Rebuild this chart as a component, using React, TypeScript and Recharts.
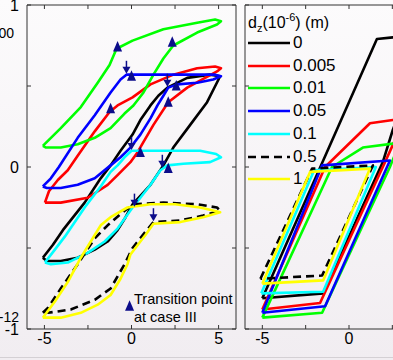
import React from 'react';
import { ComposedChart, Line, Scatter, XAxis, YAxis } from 'recharts';

type Pt = [number, number];

// left panel: loops, x from -6..6, y normalised -1..1, traced in drawing order
const leftD0: Pt[] = [
  [-5.09, -0.56], [-4.51, -0.48], [-3.94, -0.39], [-2.69, -0.22], [-1.77, -0.07], [-1.2, 0.01],
  [-0.63, 0.1], [0.06, 0.2], [0.51, 0.29], [1.09, 0.38], [1.54, 0.44], [2.06, 0.49], [3.2, 0.55],
  [4.51, 0.57], [5.09, 0.56], [4.34, 0.4], [3.37, 0.26], [2.4, 0.12], [1.83, 0.01], [1.09, -0.11],
  [0.06, -0.23], [-0.34, -0.31], [-0.8, -0.39], [-1.37, -0.46], [-2.11, -0.51], [-3.09, -0.56],
  [-4.06, -0.58], [-4.86, -0.58], [-5.09, -0.56],
];
const leftD0005: Pt[] = [
  [-4.97, -0.22], [-4.74, -0.15], [-4.23, -0.08], [-3.66, -0.02], [-3.09, 0.07], [-2.11, 0.22],
  [-1.26, 0.34], [-0.8, 0.38], [0.06, 0.43], [1.09, 0.51], [2.4, 0.57], [3.77, 0.61], [4.8, 0.62],
  [5.14, 0.61], [4.91, 0.59], [3.2, 0.49], [2.11, 0.4], [1.26, 0.26], [0.34, 0.09], [-0.06, 0.03],
  [-0.8, -0.05], [-1.37, -0.11], [-2.51, -0.19], [-4.06, -0.22], [-4.8, -0.22], [-4.97, -0.22],
];
const leftD001: Pt[] = [
  [-5.09, 0.13], [-4.06, 0.24], [-2.91, 0.37], [-1.94, 0.52], [-1.26, 0.63], [-0.86, 0.73],
  [0.06, 0.78], [1.83, 0.85], [3.77, 0.89], [4.8, 0.91], [5.14, 0.9], [4.91, 0.88], [3.77, 0.83],
  [2.4, 0.75], [1.83, 0.67], [1.26, 0.57], [0.69, 0.46], [0.11, 0.38], [-0.4, 0.33], [-1.2, 0.24],
  [-2.11, 0.18], [-3.09, 0.14], [-4.06, 0.12], [-4.91, 0.12], [-5.09, 0.13],
];
const leftD005: Pt[] = [
  [-5.09, -0.12], [-4.63, -0.07], [-4.17, 0], [-3.09, 0.18], [-2.11, 0.32], [-1.2, 0.46],
  [-0.63, 0.54], [-0.29, 0.57], [0.51, 0.57], [1.83, 0.57], [3.77, 0.57], [4.8, 0.57], [5.14, 0.56],
  [4.69, 0.54], [3.77, 0.52], [2.63, 0.51], [2.11, 0.49], [1.83, 0.44], [1.49, 0.38], [1.09, 0.3],
  [0.51, 0.2], [-0.06, 0.12], [-0.63, 0.06], [-1.2, 0.01], [-2.11, -0.07], [-3.09, -0.11],
  [-4.06, -0.13], [-4.86, -0.13], [-5.09, -0.12],
];
const leftD01: Pt[] = [
  [-4.97, -0.59], [-4.4, -0.51], [-3.83, -0.43], [-2.69, -0.25], [-1.77, -0.12], [-1.2, -0.03],
  [-0.8, 0.01], [-0.4, 0.06], [0, 0.1], [0.51, 0.1], [2.06, 0.1], [3.94, 0.1], [4.86, 0.08],
  [5.14, 0.06], [4.51, 0.03], [2.97, 0.02], [2.06, 0.01], [1.66, -0.02], [1.09, -0.11], [0.51, -0.19],
  [0.06, -0.25], [-0.8, -0.38], [-1.54, -0.46], [-2.51, -0.53], [-3.66, -0.59], [-4.63, -0.6],
  [-4.97, -0.59],
];
const leftD05: Pt[] = [
  [-5.09, -0.9], [-4.8, -0.87], [-4.06, -0.75], [-3.09, -0.6], [-2.11, -0.44], [-1.37, -0.36],
  [-0.63, -0.29], [0.11, -0.23], [1.83, -0.22], [3.77, -0.23], [4.91, -0.25], [5.09, -0.27],
  [4.11, -0.3], [2.8, -0.33], [1.26, -0.34], [0.8, -0.4], [0.06, -0.5], [-0.4, -0.6], [-1.2, -0.75],
  [-2.11, -0.82], [-3.49, -0.88], [-4.8, -0.9], [-5.09, -0.9],
];
const leftD1: Pt[] = [
  [-5.09, -0.93], [-4.4, -0.83], [-3.66, -0.71], [-2.91, -0.56], [-2.11, -0.42], [-1.77, -0.36],
  [-1.2, -0.31], [-0.23, -0.25], [1.09, -0.23], [2.51, -0.23], [3.94, -0.25], [4.74, -0.27],
  [5.09, -0.28], [4.11, -0.31], [2.8, -0.34], [1.26, -0.35], [0.8, -0.42], [0.51, -0.46],
  [-0.06, -0.54], [-0.23, -0.6], [-0.63, -0.69], [-1.2, -0.79], [-1.94, -0.85], [-2.91, -0.9],
  [-4.06, -0.93], [-4.97, -0.93], [-5.09, -0.93],
];

// right panel: piecewise loops
const rightD0: Pt[] = [[-5.0, -0.81], [1.61, 0.79], [2.53, 0.8], [4.66, 0.81], [2.53, 0.23], [1.95, 0.03], [-1.49, -0.78], [-5.0, -0.81]];
const rightD0005: Pt[] = [[-5.0, -0.88], [-1.38, 0], [1.21, 0.27], [2.53, 0.29], [3.22, 0.3], [1.95, 0], [-1.67, -0.84], [-5.0, -0.88]];
const rightD001: Pt[] = [[-5.0, -0.93], [-0.98, 0], [0.8, 0.12], [2.93, 0.15], [2.36, 0], [-1.55, -0.9], [-5.0, -0.93]];
const rightD005: Pt[] = [[-5.0, -0.9], [-1.55, 0.01], [2.36, 0.04], [-1.38, -0.86], [-5.0, -0.9]];
const rightD01: Pt[] = [[-5.06, -0.78], [-2.01, -0.02], [1.55, 0], [-1.49, -0.77], [-5.06, -0.78]];
const rightD05: Pt[] = [[-5.11, -0.69], [-2.13, -0.01], [1.38, 0.01], [-1.55, -0.67], [-5.11, -0.69]];
const rightD1: Pt[] = [[-5.0, -0.72], [-2.24, -0.03], [1.21, -0.01], [-1.49, -0.7], [-5.0, -0.72]];

// transition markers
const arrowDown: Pt[] = [[-0.29, 0.6], [2.06, 0.52], [0, 0.13], [1.77, 0.02], [0.17, -0.22], [1.26, -0.31]];
const triangleUp: Pt[] = [[-0.8, 0.74], [2.34, 0.77], [0, 0.56], [2.57, 0.5], [-1.2, 0.36], [2.11, 0.4], [0.51, 0.09], [2.11, -0.01]];
const keyMarker: Pt[] = [[-0.11, -0.86]];

const dzLabels = ['0', '0.005', '0.01', '0.05', '0.1', '0.5', '1'];
const dzColors = ['#000000', '#ff0000', '#00ff00', '#0000ff', '#00ffff', '#000000', '#ffff00'];
const leftLoops = [leftD0, leftD0005, leftD001, leftD005, leftD01, leftD05, leftD1];
const rightLoops = [rightD0, rightD0005, rightD001, rightD005, rightD01, rightD05, rightD1];

const xTicks = [-5, -2.5, 0, 2.5, 5];
const yTicks = [-1, -0.5, 0, 0.5, 1];

const rows = (pts: Pt[]) => pts.map(([x, y]) => ({ x, y }));

const FONT = '"Liberation Sans", Arial, sans-serif';
const AXIS = '#333';
const NAVY = '#0c0c8a';

const UpTri = (p: any) => (
  <path d={`M${p.cx},${p.cy - 6} L${p.cx + 4.5},${p.cy + 4.5} L${p.cx - 4.5},${p.cy + 4.5} Z`} fill={NAVY} />
);
const DownArrow = (p: any) => (
  <g>
    <line x1={p.cx} y1={p.cy - 9} x2={p.cx} y2={p.cy - 2} stroke={NAVY} strokeWidth={1.5} />
    <path d={`M${p.cx - 4},${p.cy - 3} L${p.cx + 4},${p.cy - 3} L${p.cx},${p.cy + 4} Z`} fill={NAVY} />
  </g>
);

const tickFont = { fill: '#000', fontSize: 16, fontFamily: FONT };
const xLabel = (v: number) => (Number.isInteger(v) ? String(v) : '');

const Panel = ({ loops, width, yLabels, markers }: { loops: Pt[][]; width: number; yLabels: boolean; markers: boolean }) => (
  <ComposedChart width={width} height={360} margin={{ top: 0, right: 0, bottom: 0, left: 0 }}>
    <XAxis xAxisId="b" type="number" dataKey="x" domain={[-6, 6]} ticks={xTicks} interval={0} allowDataOverflow
      height={31} tickSize={-4} tickMargin={8} tickFormatter={xLabel} tick={tickFont}
      axisLine={{ stroke: AXIS }} tickLine={{ stroke: AXIS }} />
    <XAxis xAxisId="t" orientation="top" type="number" dataKey="x" domain={[-6, 6]} ticks={xTicks} interval={0} allowDataOverflow
      height={5} tickSize={-4} tickFormatter={() => ''} axisLine={{ stroke: AXIS }} tickLine={{ stroke: AXIS }} />
    <YAxis yAxisId="l" type="number" domain={[-1, 1]} ticks={yTicks} interval={0} allowDataOverflow
      width={yLabels ? 27 : 8} tickSize={-4} tickMargin={12} tick={tickFont}
      tickFormatter={(v: number) => (yLabels && Number.isInteger(v) ? String(v) : '')}
      axisLine={{ stroke: AXIS }} tickLine={{ stroke: AXIS }} />
    <YAxis yAxisId="r" orientation="right" type="number" domain={[-1, 1]} ticks={yTicks} interval={0} allowDataOverflow
      width={4} tickSize={-4} tickFormatter={() => ''} axisLine={{ stroke: AXIS }} tickLine={{ stroke: AXIS }} />
    {loops.map((pts, i) => (
      <Line key={i} xAxisId="b" yAxisId="l" data={rows(pts)} dataKey="y" type="linear"
        stroke={dzColors[i]} strokeWidth={2.6} strokeDasharray={i === 5 ? '8 5' : undefined}
        strokeLinejoin="round" dot={false} activeDot={false} isAnimationActive={false} />
    ))}
    {markers && (
      <Scatter xAxisId="b" yAxisId="l" data={rows(triangleUp)} dataKey="y" shape={UpTri} isAnimationActive={false} />
    )}
    {markers && (
      <Scatter xAxisId="b" yAxisId="l" data={rows(arrowDown)} dataKey="y" shape={DownArrow} isAnimationActive={false} />
    )}
    {markers && (
      <Scatter xAxisId="b" yAxisId="l" data={rows(keyMarker)} dataKey="y" shape={UpTri} isAnimationActive={false} />
    )}
  </ComposedChart>
);

export default function App() {
  return (
    <div style={{ position: 'absolute', left: 0, top: 0, width: 393, height: 360, overflow: 'hidden',
      background: 'linear-gradient(#fcfbfc, #f1edf1)', fontFamily: FONT, color: '#000' }}>
      <div style={{ position: 'absolute', left: 0, top: 0 }}>
        <Panel loops={leftLoops} width={240} yLabels markers />
      </div>
      <div style={{ position: 'absolute', left: 237, top: 0 }}>
        <Panel loops={rightLoops} width={220} yLabels={false} markers={false} />
      </div>

      {/* stray tick text from the cropped figure */}
      <div style={{ position: 'absolute', left: -30, width: 44, top: 25, fontSize: 14, lineHeight: '16px', textAlign: 'right' }}>00</div>
      <div style={{ position: 'absolute', left: -30, width: 49, top: 309, fontSize: 14, lineHeight: '16px', textAlign: 'right' }}>-12</div>

      <div style={{ position: 'absolute', left: 134, top: 290, fontSize: 14.5, lineHeight: '18px', whiteSpace: 'nowrap' }}>
        Transition point<br />at case III
      </div>

      {/* d_z legend */}
      <div style={{ position: 'absolute', left: 248, top: 7, fontSize: 16, lineHeight: '20px', whiteSpace: 'nowrap' }}>
        d<sub style={{ fontSize: 11, verticalAlign: -4 }}>z</sub>(10<sup style={{ fontSize: 11, verticalAlign: 7 }}>-6</sup>) (m)
      </div>
      {dzLabels.map((lab, i) => (
        <div key={lab} style={{ position: 'absolute', left: 248, top: 32 + i * 22.7, height: 22, display: 'flex', alignItems: 'center' }}>
          <svg width={44} height={22}>
            <line x1={0} y1={11} x2={42} y2={11} stroke={dzColors[i]} strokeWidth={2.6} strokeDasharray={i === 5 ? '8 5' : undefined} />
          </svg>
          <span style={{ fontSize: 17, marginLeft: 1 }}>{lab}</span>
        </div>
      ))}
      <div style={{ position: 'absolute', left: 0, top: 357, width: 393, height: 1, background: '#d4d0d4' }} />
    </div>
  );
}
